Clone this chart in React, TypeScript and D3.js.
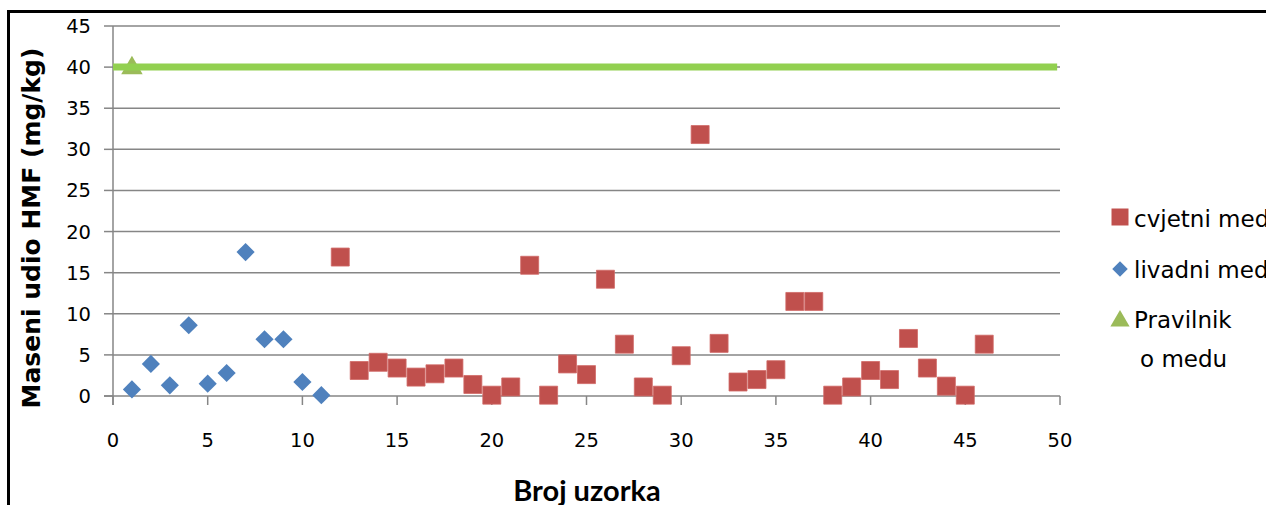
import React, { useEffect, useRef } from "react";
import * as d3 from "d3";

// livadni med: samples 1-11
const livadniX = [1, 2, 3, 4, 5, 6, 7, 8, 9, 10, 11];
const livadniY = [0.8, 3.9, 1.3, 8.6, 1.5, 2.8, 17.5, 6.9, 6.9, 1.7, 0.1];

// cvjetni med: samples 12-46
const cvjetniX = [
  12, 13, 14, 15, 16, 17, 18, 19, 20, 21, 22, 23, 24, 25, 26, 27, 28, 29,
  30, 31, 32, 33, 34, 35, 36, 37, 38, 39, 40, 41, 42, 43, 44, 45, 46,
];
const cvjetniY = [
  16.9, 3.1, 4.1, 3.4, 2.3, 2.7, 3.4, 1.4, 0.1, 1.1, 15.9, 0.1, 3.9, 2.6,
  14.2, 6.3, 1.1, 0.1, 4.9, 31.8, 6.4, 1.7, 2.0, 3.2, 11.5, 11.5, 0.1, 1.1,
  3.1, 2.0, 7.0, 3.4, 1.2, 0.1, 6.3,
];

// Pravilnik o medu limit
const limitValue = 40;
const limitRange = [0, 49.85];
const limitMarkerX = [1];

const xTicks = [0, 5, 10, 15, 20, 25, 30, 35, 40, 45, 50];
const yTicks = [0, 5, 10, 15, 20, 25, 30, 35, 40, 45];

const legendLabels = ["cvjetni med", "livadni med", "Pravilnik", "o medu"];

const RED = "#C0504D";
const BLUE = "#4F81BD";
const GREEN_LINE = "#92D050";
const GREEN_MARK = "#9BBB59";
const GRID = "#868686";
const FONT = "'DejaVu Sans', Verdana, sans-serif";

const App: React.FC = () => {
  const svgRef = useRef<SVGSVGElement>(null);

  useEffect(() => {
    if (!svgRef.current) return;
    const svg = d3.select(svgRef.current);
    svg.selectAll("*").remove();

    const x = d3.scaleLinear().domain([0, 50]).range([113, 1060]);
    const y = d3.scaleLinear().domain([0, 45]).range([396, 26]);

    // frame
    svg
      .append("rect")
      .attr("x", 8.5)
      .attr("y", 11.5)
      .attr("width", 1300)
      .attr("height", 520)
      .attr("fill", "#fff")
      .attr("stroke", "#000")
      .attr("stroke-width", 3);

    // gridlines
    svg
      .append("g")
      .selectAll("line")
      .data(yTicks.filter((t) => t > 0))
      .enter()
      .append("line")
      .attr("x1", x(0))
      .attr("x2", x(50))
      .attr("y1", (d) => y(d))
      .attr("y2", (d) => y(d))
      .attr("stroke", GRID)
      .attr("stroke-width", 1.5);

    // axes
    const axes = svg.append("g").attr("stroke", GRID).attr("stroke-width", 1.5);
    axes.append("line").attr("x1", x(0)).attr("x2", x(0)).attr("y1", y(45)).attr("y2", y(0) + 9);
    axes.append("line").attr("x1", x(0) - 9).attr("x2", x(50)).attr("y1", y(0)).attr("y2", y(0));
    axes
      .selectAll(".yt")
      .data(yTicks)
      .enter()
      .append("line")
      .attr("x1", x(0) - 9)
      .attr("x2", x(0))
      .attr("y1", (d) => y(d))
      .attr("y2", (d) => y(d));
    axes
      .selectAll(".xt")
      .data(xTicks)
      .enter()
      .append("line")
      .attr("x1", (d) => x(d))
      .attr("x2", (d) => x(d))
      .attr("y1", y(0))
      .attr("y2", y(0) + 9);

    // tick labels
    svg
      .append("g")
      .selectAll("text")
      .data(yTicks)
      .enter()
      .append("text")
      .attr("x", 91)
      .attr("y", (d) => y(d) + 7)
      .attr("text-anchor", "end")
      .style("font-family", FONT)
      .style("font-size", "19.5px")
      .attr("fill", "#000")
      .text((d) => d);

    svg
      .append("g")
      .selectAll("text")
      .data(xTicks)
      .enter()
      .append("text")
      .attr("x", (d) => x(d))
      .attr("y", 447)
      .attr("text-anchor", "middle")
      .style("font-family", FONT)
      .style("font-size", "19.5px")
      .attr("fill", "#000")
      .text((d) => d);

    // axis titles
    svg
      .append("text")
      .attr("transform", "translate(40,228) rotate(-90)")
      .attr("text-anchor", "middle")
      .style("font-family", FONT)
      .style("font-weight", "bold")
      .style("font-size", "25px")
      .text("Maseni udio HMF (mg/kg)");

    svg
      .append("text")
      .attr("x", 587)
      .attr("y", 501)
      .attr("text-anchor", "middle")
      .style("font-family", "Lato, 'Open Sans', sans-serif")
      .style("font-weight", "bold")
      .style("font-size", "29px")
      .text("Broj uzorka");

    // limit marker + line
    const tri = d3.symbol().type(d3.symbolTriangle).size(200);
    svg
      .append("g")
      .selectAll("path")
      .data(limitMarkerX)
      .enter()
      .append("path")
      .attr("d", tri)
      .attr("transform", (d) => `translate(${x(d)},${y(limitValue) + 1})`)
      .attr("fill", GREEN_MARK);

    svg
      .append("line")
      .attr("x1", x(limitRange[0]))
      .attr("x2", x(limitRange[1]))
      .attr("y1", y(limitValue))
      .attr("y2", y(limitValue))
      .attr("stroke", GREEN_LINE)
      .attr("stroke-width", 7);

    // livadni med diamonds
    const sq = d3.symbol().type(d3.symbolSquare);
    svg
      .append("g")
      .selectAll("path")
      .data(livadniX.map((v, i) => [v, livadniY[i]]))
      .enter()
      .append("path")
      .attr("d", sq.size(165)())
      .attr("transform", (d) => `translate(${x(d[0])},${y(d[1])}) rotate(45)`)
      .attr("fill", BLUE);

    // cvjetni med squares
    svg
      .append("g")
      .selectAll("path")
      .data(cvjetniX.map((v, i) => [v, cvjetniY[i]]))
      .enter()
      .append("path")
      .attr("d", sq.size(324)())
      .attr("transform", (d) => `translate(${x(d[0])},${y(d[1])})`)
      .attr("fill", RED)
      .attr("stroke", "#d06a67")
      .attr("stroke-width", 0.8);

    // legend
    const lg = svg.append("g");
    lg.append("path")
      .attr("d", sq.size(289)())
      .attr("transform", "translate(1120,217)")
      .attr("fill", RED);
    lg.append("path")
      .attr("d", sq.size(120)())
      .attr("transform", "translate(1120,269) rotate(45)")
      .attr("fill", BLUE);
    lg.append("path")
      .attr("d", d3.symbol().type(d3.symbolTriangle).size(160)())
      .attr("transform", "translate(1120,321)")
      .attr("fill", GREEN_MARK);

    const lt = [
      [1134, 227],
      [1134, 278],
      [1134, 328],
      [1140, 367],
    ];
    lg.selectAll("text")
      .data(legendLabels)
      .enter()
      .append("text")
      .attr("x", (_, i) => lt[i][0])
      .attr("y", (_, i) => lt[i][1])
      .style("font-family", FONT)
      .style("font-size", "23px")
      .attr("fill", "#000")
      .text((d) => d);
  }, []);

  return (
    <svg
      ref={svgRef}
      width={1266}
      height={505}
      style={{ position: "absolute", left: 0, top: 0, display: "block" }}
    />
  );
};

export default App;
